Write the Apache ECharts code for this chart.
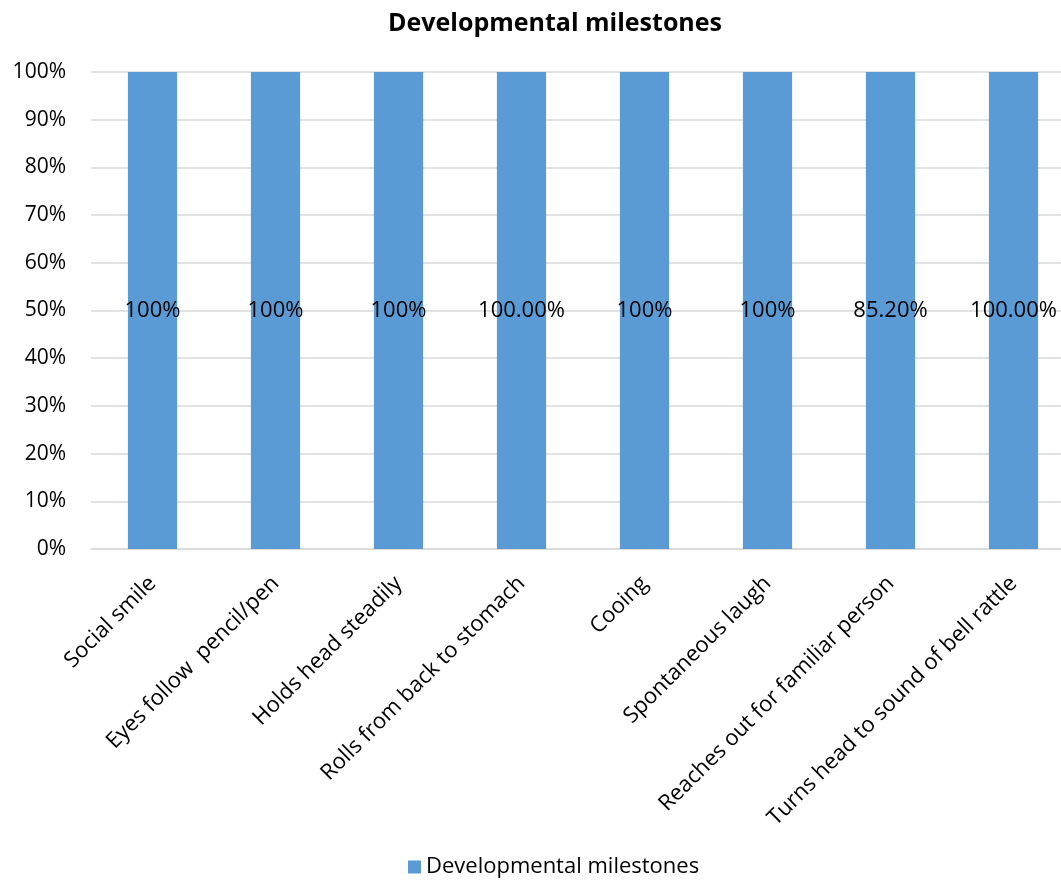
<!DOCTYPE html>
<html><head><meta charset="utf-8">
<script src="https://cdn.jsdelivr.net/npm/echarts@6/dist/echarts.min.js"></script>
<style>html,body{margin:0;padding:0;background:#fff}#c{width:1061px;height:882px}</style>
</head><body><div id="c"></div>
<script>
const categories = ["Social smile","Eyes follow  pencil/pen","Holds head steadily","Rolls from back to stomach","Cooing","Spontaneous laugh","Reaches out for familiar person","Turns head to sound of bell rattle"];
const values = [100,100,100,100,100,100,100,100];
const labelTexts = ["100%","100%","100%","100.00%","100%","100%","85.20%","100.00%"];
const yTicks = [0,10,20,30,40,50,60,70,80,90,100];
const FONT = "'Open Sans', Lato, sans-serif";
const chart = echarts.init(document.getElementById('c'));
chart.setOption({
  animation:false,
  title:{text:"Developmental milestones",left:383,top:6,textStyle:{fontFamily:FONT,fontSize:25,fontWeight:'bold',color:'#000'}},
  grid:{left:91,width:984,top:72,bottom:333,containLabel:false,outerBoundsMode:'none'},
  legend:{bottom:-1,left:403,itemWidth:13,itemHeight:13,itemGap:6,icon:'rect',textStyle:{fontFamily:FONT,fontSize:22,color:'#000'},data:["Developmental milestones"]},
  xAxis:{type:'category',data:categories,axisTick:{show:false},axisLine:{lineStyle:{color:'#D9D9D9',width:1.5}},
    axisLabel:{rotate:45,interval:0,fontFamily:FONT,fontSize:22,color:'#000',margin:31}},
  yAxis:{type:'value',min:0,max:100,interval:10,axisLine:{show:false},axisTick:{show:false},
    splitLine:{lineStyle:{color:'#D9D9D9',width:1.5}},
    axisLabel:{formatter:v=>v+'%',fontFamily:FONT,fontSize:21,color:'#000',margin:25}},
  series:[{name:"Developmental milestones",type:'bar',data:values,barWidth:'40%',itemStyle:{color:'#5B9BD5'},
    label:{show:true,position:'inside',formatter:p=>labelTexts[p.dataIndex],fontFamily:FONT,fontSize:22,color:'#000'}}]
});
</script></body></html>
